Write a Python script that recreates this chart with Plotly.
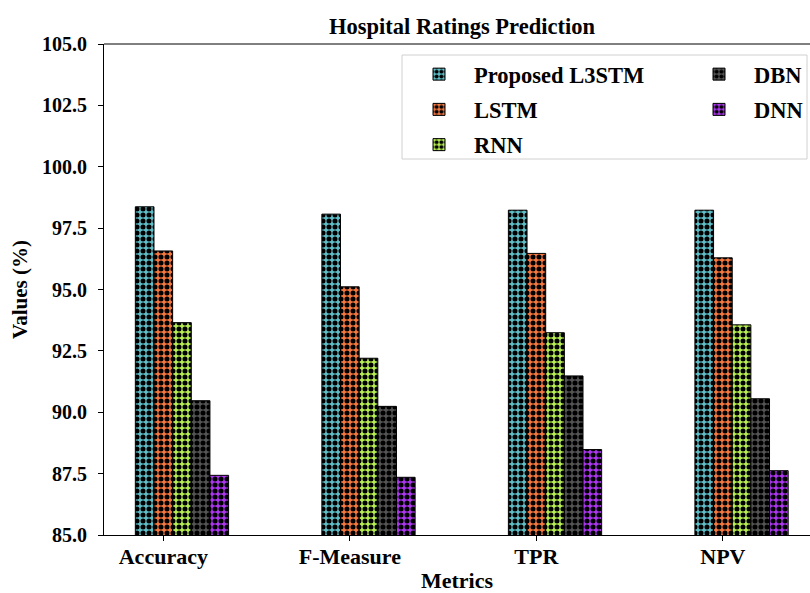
import plotly.graph_objects as go

# Metrics on the x axis and model scores (%)
metrics = ["Accuracy", "F-Measure", "TPR", "NPV"]
models = ["Proposed L3STM", "LSTM", "RNN", "DBN", "DNN"]
proposed_l3stm = [98.37, 98.07, 98.23, 98.23]
lstm = [96.57, 95.11, 96.47, 96.29]
rnn = [93.65, 92.20, 93.24, 93.56]
dbn = [90.47, 90.24, 91.48, 90.55]
dnn = [87.43, 87.35, 88.48, 87.62]
y_ticks = [85.0, 87.5, 90.0, 92.5, 95.0, 97.5, 100.0, 102.5, 105.0]

series = [proposed_l3stm, lstm, rnn, dbn, dnn]
colors = ["#5EBFC8", "#F7783F", "#B7EF52", "#545454", "#AE35F2"]
legend_ids = ["legend", "legend", "legend", "legend2", "legend2"]

FONT = "Liberation Serif"
BAR_W = 0.1

fig = go.Figure()
for k, (name, vals, col, lg) in enumerate(zip(models, series, colors, legend_ids)):
    xs = [i + (k - 1) * BAR_W for i in range(len(metrics))]
    fig.add_trace(go.Bar(
        x=xs, y=vals, width=BAR_W, name=name,
        marker=dict(
            color=col,
            line=dict(color="black", width=1),
            pattern=dict(shape=".", fgcolor="black", bgcolor=col,
                         size=6, solidity=0.55, fillmode="replace"),
        ),
        legend=lg, legendgroup=name,
    ))

W, H = 810, 593
L, R, T, B = 104, 0, 44, 58
pw = W - L - R
ph = H - T - B


def px_x(p):
    return (p - L) / pw


def px_y(p):
    return (H - B - p) / ph


legend_font = dict(family=FONT, size=22.5, weight="bold")

fig.update_layout(
    width=W, height=H,
    margin=dict(l=L, r=R, t=T, b=B, autoexpand=False),
    paper_bgcolor="white", plot_bgcolor="white",
    font=dict(family=FONT, size=21, color="black", weight="bold"),
    title=dict(text="Hospital Ratings Prediction", x=px_x(462), xanchor="center",
               y=1 - 26 / H, yanchor="middle", xref="paper",
               font=dict(family=FONT, size=22.5, weight="bold")),
    barmode="overlay",
    showlegend=True,
    legend=dict(x=px_x(404), y=px_y(53), xanchor="left", yanchor="top",
                orientation="v", bgcolor="rgba(0,0,0,0)", borderwidth=0,
                itemwidth=60, tracegroupgap=3, font=legend_font),
    legend2=dict(x=px_x(684), y=px_y(53), xanchor="left", yanchor="top",
                 orientation="v", bgcolor="rgba(0,0,0,0)", borderwidth=0,
                 itemwidth=60, tracegroupgap=3, font=legend_font),
    xaxis=dict(
        range=[-0.318, 3.467], tickmode="array",
        tickvals=list(range(len(metrics))), ticktext=metrics,
        showline=True, linecolor="black", linewidth=1, mirror=False,
        ticks="outside", ticklen=5, tickcolor="black",
        showgrid=False, zeroline=False, ticklabelstandoff=-3,
        tickfont=dict(family=FONT, size=22, weight="bold"),
        title=dict(text="Metrics", standoff=5,
                   font=dict(family=FONT, size=22, weight="bold")),
    ),
    yaxis=dict(
        range=[85, 105], tickmode="array", tickvals=y_ticks,
        ticktext=[f"{v:.1f}" for v in y_ticks],
        showline=True, linecolor="black", linewidth=1, mirror=False,
        ticks="outside", ticklen=5, tickcolor="black",
        showgrid=False, zeroline=False, ticklabelstandoff=7,
        tickfont=dict(family=FONT, size=20, weight="bold"),
        title=dict(text="Values (%)", standoff=8,
                   font=dict(family=FONT, size=21, weight="bold")),
    ),
    shapes=[
        # top spine
        dict(type="line", xref="paper", yref="paper", x0=0, x1=1, y0=1, y1=1,
             line=dict(color="black", width=1)),
        # legend frame
        dict(type="rect", xref="paper", yref="paper",
             x0=px_x(402), x1=px_x(807), y0=px_y(55), y1=px_y(159),
             fillcolor="white", line=dict(color="#D0D0D0", width=1), layer="above"),
    ],
)

fig.write_html("out.html")
